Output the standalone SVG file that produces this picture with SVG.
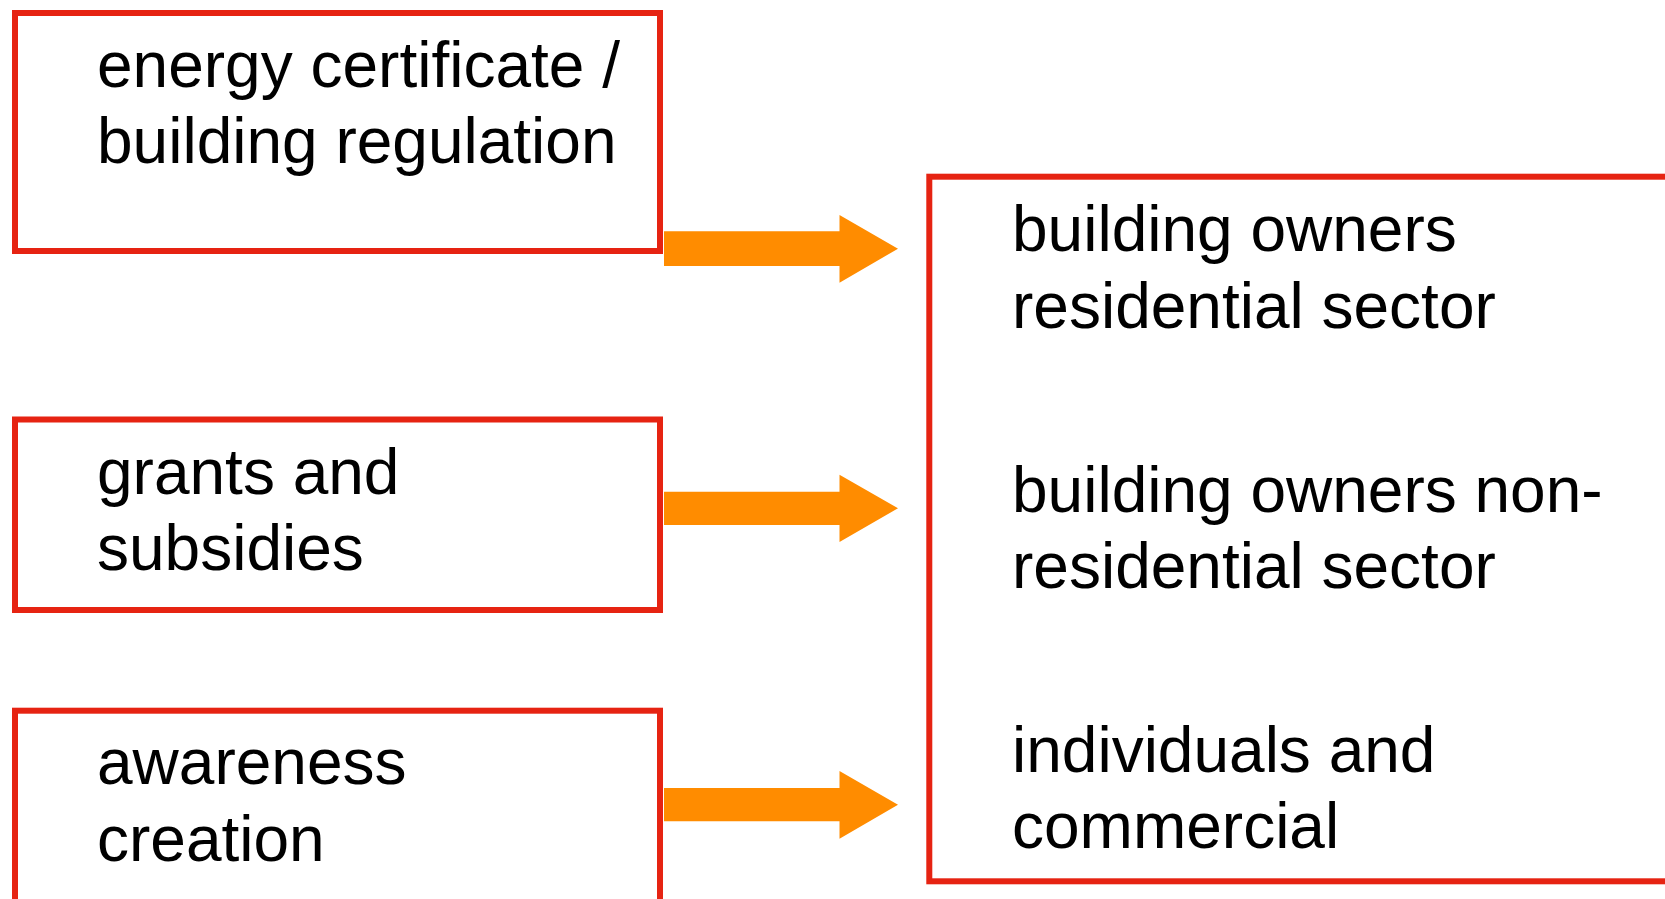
<svg xmlns="http://www.w3.org/2000/svg" width="1665" height="899" viewBox="0 0 1665 899">
<style>
.box{fill:#ffffff;stroke:#E62312;stroke-width:6}
.lbl{font-family:"Liberation Sans",Arial,sans-serif;font-size:64px;fill:#000000}
.arr{fill:#FF8C00}
</style>
<rect width="1665" height="899" fill="#ffffff"/>
<g id="node-energy">
<rect class="box" x="15" y="13" width="645" height="238"/>
<text class="lbl" x="97" y="86.7">energy certificate /</text>
<text class="lbl" x="97" y="163.3">building regulation</text>
</g>
<g id="node-grants">
<rect class="box" x="15" y="419.5" width="645" height="190.5"/>
<text class="lbl" x="97" y="494.3">grants and</text>
<text class="lbl" x="97" y="570">subsidies</text>
</g>
<g id="node-awareness">
<rect class="box" x="15" y="710.7" width="645" height="200"/>
<text class="lbl" x="97" y="784">awareness</text>
<text class="lbl" x="97" y="861.3">creation</text>
</g>
<g id="node-targets">
<rect class="box" x="929.3" y="176.7" width="760" height="704.6"/>
<text class="lbl" x="1012" y="251">building owners</text>
<text class="lbl" x="1012" y="327.7">residential sector</text>
<text class="lbl" x="1012" y="511.7">building owners non-</text>
<text class="lbl" x="1012" y="587.7">residential sector</text>
<text class="lbl" x="1012" y="771.7">individuals and</text>
<text class="lbl" x="1012" y="848.3">commercial</text>
</g>
<g id="connectors">
<polygon class="arr" points="664,231.3 839.5,231.3 839.5,215 898,248.7 839.5,282.7 839.5,266 664,266"/>
<polygon class="arr" points="664,491.7 839.5,491.7 839.5,474.7 898,508.3 839.5,542 839.5,525 664,525"/>
<polygon class="arr" points="664,788 839.5,788 839.5,771 898,804.7 839.5,838.7 839.5,821.3 664,821.3"/>
</g>
</svg>
